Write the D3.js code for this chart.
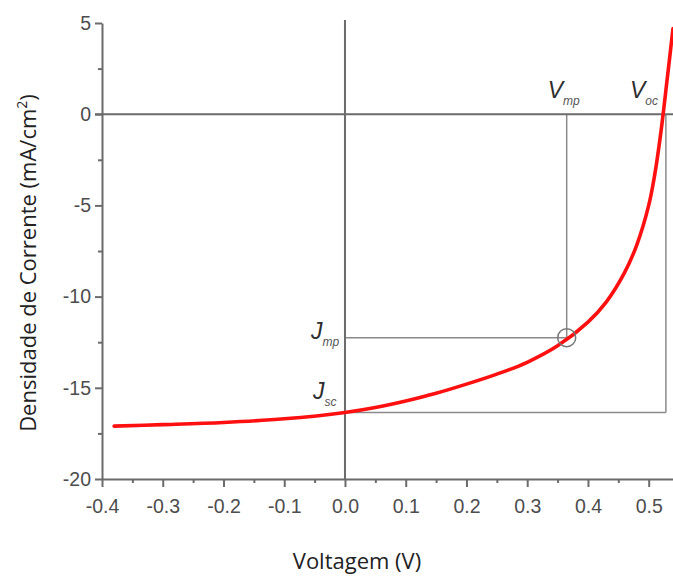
<!DOCTYPE html>
<html>
<head>
<meta charset="utf-8">
<script src="https://cdn.jsdelivr.net/npm/d3@7"></script>
<style>
  html, body { margin: 0; padding: 0; background: #fff; }
  svg { display: block; }
</style>
</head>
<body>
<svg id="chart" width="673" height="576"></svg>
<script>
// J–V curve of a solar cell
const voltage = [-0.38, -0.3, -0.2, -0.1, 0.0, 0.05, 0.1, 0.15, 0.2, 0.25, 0.3, 0.35, 0.4, 0.43, 0.46, 0.48, 0.5, 0.51, 0.52, 0.53, 0.54];
const current = [-17.1, -17.02, -16.9, -16.7, -16.35, -16.08, -15.72, -15.3, -14.8, -14.25, -13.6, -12.7, -11.4, -10.3, -8.7, -7.2, -5.0, -3.3, -1.0, 1.8, 4.7];

const xTicks = [-0.4, -0.3, -0.2, -0.1, 0.0, 0.1, 0.2, 0.3, 0.4, 0.5];
const xMinor = [-0.35, -0.25, -0.15, -0.05, 0.05, 0.15, 0.25, 0.35, 0.45];
const yTicks = [5, 0, -5, -10, -15, -20];
const yMinor = [2.5, -2.5, -7.5, -12.5, -17.5];

// characteristic points
const Vmp = 0.365, Jmp = -12.25;
const Voc = 0.525, Jsc = -16.35;

const svg = d3.select("#chart");
const x = d3.scaleLinear().domain([-0.4, 0.54]).range([102, 673]);
const y = d3.scaleLinear().domain([-20, 5]).range([479, 23]);

const axisColor = "#6b6b6b";
const tickFont = "'Liberation Sans', Arial, sans-serif";
const hyphen = f => d => f(d).replace("\u2212", "-");

// guide lines for the maximum power point and Jsc / Voc
const guide = svg.append("g").attr("stroke", "#8a8a8a").attr("stroke-width", 1.5).attr("fill", "none");
guide.append("line").attr("x1", x(0)).attr("x2", x(Vmp)).attr("y1", y(Jmp)).attr("y2", y(Jmp));
guide.append("line").attr("x1", x(Vmp)).attr("x2", x(Vmp)).attr("y1", y(0)).attr("y2", y(Jmp));
guide.append("line").attr("x1", x(0)).attr("x2", x(Voc) + 2).attr("y1", y(Jsc)).attr("y2", y(Jsc));
guide.append("line").attr("x1", x(Voc) + 2).attr("x2", x(Voc) + 2).attr("y1", y(0)).attr("y2", y(Jsc));

// zero lines
svg.append("line").attr("x1", 95).attr("x2", 673).attr("y1", y(0)).attr("y2", y(0))
  .attr("stroke", axisColor).attr("stroke-width", 2);
svg.append("line").attr("x1", x(0)).attr("x2", x(0)).attr("y1", 20).attr("y2", y(-20))
  .attr("stroke", axisColor).attr("stroke-width", 2);

// axes
const xAxis = svg.append("g").attr("transform", `translate(0,${y(-20)})`)
  .call(d3.axisBottom(x).tickValues(xTicks).tickFormat(hyphen(d3.format(".1f"))).tickSize(8).tickSizeOuter(0));
svg.append("g").attr("transform", `translate(0,${y(-20)})`)
  .call(d3.axisBottom(x).tickValues(xMinor).tickFormat("").tickSize(4).tickSizeOuter(0))
  .call(g => g.select(".domain").remove());
const yAxis = svg.append("g").attr("transform", `translate(${x(-0.4)},0)`)
  .call(d3.axisLeft(y).tickValues(yTicks).tickFormat(hyphen(d3.format("d"))).tickSize(7).tickSizeOuter(0));
svg.append("g").attr("transform", `translate(${x(-0.4)},0)`)
  .call(d3.axisLeft(y).tickValues(yMinor).tickFormat("").tickSize(4).tickSizeOuter(0))
  .call(g => g.select(".domain").remove());

svg.selectAll(".domain").attr("stroke", axisColor).attr("stroke-width", 2);
svg.selectAll(".tick line").attr("stroke", axisColor).attr("stroke-width", 2);
svg.selectAll(".tick text").attr("fill", "#4d4d4d").attr("font-family", tickFont).attr("font-size", 19.5);
xAxis.selectAll(".tick text").attr("dy", "1.2em");
yAxis.selectAll(".tick text").attr("dx", "-0.05em");

// J–V curve
const line = d3.line().x((d, i) => x(voltage[i])).y(d => y(d)).curve(d3.curveCatmullRom.alpha(0.5));
svg.append("path").datum(current).attr("d", line)
  .attr("fill", "none").attr("stroke", "#ff1010").attr("stroke-width", 3.6)
  .attr("stroke-linecap", "round");

// maximum power point marker
svg.append("circle").attr("cx", x(Vmp)).attr("cy", y(Jmp)).attr("r", 9)
  .attr("fill", "none").attr("stroke", "#777").attr("stroke-width", 1.5);

// point labels
function label(px, py, main, sub) {
  const t = svg.append("text").attr("x", px).attr("y", py)
    .attr("font-family", tickFont).attr("font-style", "italic").attr("fill", "#2e2e2e");
  t.append("tspan").attr("font-size", 23).text(main);
  t.append("tspan").attr("font-size", 12).attr("dy", 7).attr("fill", "#555").text(sub);
}
label(x(Vmp) - 19, y(0) - 16, "V", "mp");
label(x(Voc) - 34, y(0) - 16, "V", "oc");
label(x(0) - 34, y(Jmp) + 1, "J", "mp");
label(x(0) - 32, y(Jsc) - 13, "J", "sc");

// axis titles
const titleFont = "'Open Sans', 'Noto Sans', sans-serif";
svg.append("text").attr("x", 357).attr("y", 569).attr("text-anchor", "middle")
  .attr("font-family", titleFont).attr("font-size", 22).attr("fill", "#222")
  .text("Voltagem (V)");
const yt = svg.append("text").attr("transform", "translate(36,263) rotate(-90)")
  .attr("text-anchor", "middle").attr("font-family", titleFont).attr("font-size", 22).attr("fill", "#222");
yt.append("tspan").text("Densidade de Corrente (mA/cm");
yt.append("tspan").attr("font-size", 14).attr("dy", -9).text("2");
yt.append("tspan").attr("dy", 9).text(")");
</script>
</body>
</html>
